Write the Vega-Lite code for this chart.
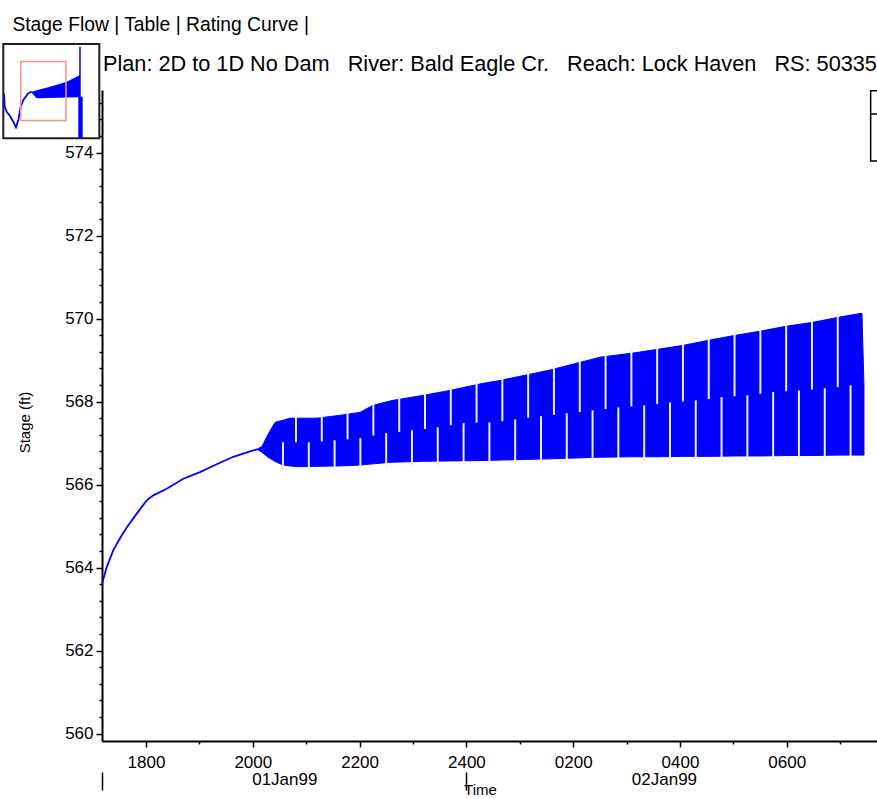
{
  "$schema": "https://vega.github.io/schema/vega-lite/v6.json",
  "width": 775,
  "height": 651,
  "autosize": "none",
  "padding": {"left": 102, "top": 90, "right": 0, "bottom": 58},
  "background": "white",
  "config": {
    "font": "Liberation Sans",
    "view": {"stroke": null},
    "axis": {
      "domainColor": "#000000",
      "domainWidth": 2,
      "tickColor": "#000000",
      "tickWidth": 1.5,
      "labelColor": "#000000",
      "labelFont": "Liberation Sans",
      "labelFontSize": 17,
      "titleFont": "Liberation Sans",
      "titleFontWeight": "normal",
      "titleColor": "#000000",
      "grid": false,
      "labelFlush": false,
      "labelOverlap": false
    }
  },
  "title": {
    "text": "Stage Flow | Table | Rating Curve |",
    "anchor": "start",
    "frame": "bounds",
    "fontSize": 19.3,
    "fontWeight": "normal",
    "color": "#000000",
    "offset": 8,
    "dx": 12
  },
  "datasets": {
    "rise": [
      {"hr": 17.176, "stage": 563.61},
      {"hr": 17.264, "stage": 564.01},
      {"hr": 17.388, "stage": 564.42},
      {"hr": 17.545, "stage": 564.78},
      {"hr": 17.669, "stage": 565.02},
      {"hr": 17.826, "stage": 565.30},
      {"hr": 18.013, "stage": 565.62},
      {"hr": 18.137, "stage": 565.74},
      {"hr": 18.388, "stage": 565.90},
      {"hr": 18.699, "stage": 566.14},
      {"hr": 19.011, "stage": 566.30},
      {"hr": 19.324, "stage": 566.49},
      {"hr": 19.635, "stage": 566.67},
      {"hr": 19.948, "stage": 566.80},
      {"hr": 20.079, "stage": 566.85}
    ],
    "band": [
      {"hr": 20.079, "lo": 566.85, "hi": 566.85},
      {"hr": 20.172, "lo": 566.78, "hi": 566.92},
      {"hr": 20.285, "lo": 566.66, "hi": 567.21},
      {"hr": 20.416, "lo": 566.56, "hi": 567.50},
      {"hr": 20.566, "lo": 566.47, "hi": 567.55},
      {"hr": 20.697, "lo": 566.45, "hi": 567.60},
      {"hr": 20.884, "lo": 566.43, "hi": 567.60},
      {"hr": 21.202, "lo": 566.44, "hi": 567.60},
      {"hr": 21.633, "lo": 566.45, "hi": 567.67},
      {"hr": 22.007, "lo": 566.47, "hi": 567.74},
      {"hr": 22.251, "lo": 566.50, "hi": 567.91},
      {"hr": 22.625, "lo": 566.54, "hi": 568.03},
      {"hr": 23.187, "lo": 566.56, "hi": 568.15},
      {"hr": 23.693, "lo": 566.57, "hi": 568.27},
      {"hr": 24.311, "lo": 566.58, "hi": 568.44},
      {"hr": 24.629, "lo": 566.59, "hi": 568.51},
      {"hr": 25.566, "lo": 566.62, "hi": 568.76},
      {"hr": 26.502, "lo": 566.66, "hi": 569.07},
      {"hr": 27.120, "lo": 566.67, "hi": 569.17},
      {"hr": 27.588, "lo": 566.67, "hi": 569.26},
      {"hr": 28.075, "lo": 566.68, "hi": 569.36},
      {"hr": 28.543, "lo": 566.68, "hi": 569.48},
      {"hr": 29.049, "lo": 566.69, "hi": 569.60},
      {"hr": 29.517, "lo": 566.69, "hi": 569.70},
      {"hr": 30.004, "lo": 566.70, "hi": 569.82},
      {"hr": 30.491, "lo": 566.70, "hi": 569.91},
      {"hr": 30.959, "lo": 566.71, "hi": 570.03},
      {"hr": 31.408, "lo": 566.71, "hi": 570.13},
      {"hr": 31.446, "lo": 566.71, "hi": 568.39}
    ],
    "gaps": [
      {"part": "upper", "hr": 20.809, "lo": 567.02, "hi": 567.70},
      {"part": "upper", "hr": 21.292, "lo": 567.04, "hi": 567.71},
      {"part": "upper", "hr": 21.775, "lo": 567.09, "hi": 567.80},
      {"part": "upper", "hr": 22.258, "lo": 567.18, "hi": 568.01},
      {"part": "upper", "hr": 22.742, "lo": 567.27, "hi": 568.15},
      {"part": "upper", "hr": 23.225, "lo": 567.34, "hi": 568.26},
      {"part": "upper", "hr": 23.708, "lo": 567.43, "hi": 568.37},
      {"part": "upper", "hr": 24.191, "lo": 567.49, "hi": 568.51},
      {"part": "upper", "hr": 24.674, "lo": 567.53, "hi": 568.62},
      {"part": "upper", "hr": 25.157, "lo": 567.61, "hi": 568.75},
      {"part": "upper", "hr": 25.640, "lo": 567.68, "hi": 568.88},
      {"part": "upper", "hr": 26.124, "lo": 567.75, "hi": 569.05},
      {"part": "upper", "hr": 26.607, "lo": 567.82, "hi": 569.19},
      {"part": "upper", "hr": 27.090, "lo": 567.88, "hi": 569.26},
      {"part": "upper", "hr": 27.573, "lo": 567.94, "hi": 569.35},
      {"part": "upper", "hr": 28.056, "lo": 568.00, "hi": 569.46},
      {"part": "upper", "hr": 28.539, "lo": 568.06, "hi": 569.58},
      {"part": "upper", "hr": 29.022, "lo": 568.13, "hi": 569.69},
      {"part": "upper", "hr": 29.506, "lo": 568.19, "hi": 569.80},
      {"part": "upper", "hr": 29.989, "lo": 568.25, "hi": 569.92},
      {"part": "upper", "hr": 30.472, "lo": 568.29, "hi": 570.01},
      {"part": "upper", "hr": 30.955, "lo": 568.35, "hi": 570.13},
      {"part": "lower", "hr": 20.566, "lo": 566.37, "hi": 567.02},
      {"part": "lower", "hr": 21.049, "lo": 566.33, "hi": 567.02},
      {"part": "lower", "hr": 21.532, "lo": 566.35, "hi": 567.07},
      {"part": "lower", "hr": 22.015, "lo": 566.37, "hi": 567.12},
      {"part": "lower", "hr": 22.498, "lo": 566.44, "hi": 567.24},
      {"part": "lower", "hr": 22.981, "lo": 566.45, "hi": 567.31},
      {"part": "lower", "hr": 23.464, "lo": 566.46, "hi": 567.38},
      {"part": "lower", "hr": 23.948, "lo": 566.47, "hi": 567.48},
      {"part": "lower", "hr": 24.431, "lo": 566.48, "hi": 567.50},
      {"part": "lower", "hr": 24.914, "lo": 566.49, "hi": 567.57},
      {"part": "lower", "hr": 25.397, "lo": 566.51, "hi": 567.65},
      {"part": "lower", "hr": 25.880, "lo": 566.52, "hi": 567.72},
      {"part": "lower", "hr": 26.363, "lo": 566.56, "hi": 567.79},
      {"part": "lower", "hr": 26.846, "lo": 566.57, "hi": 567.86},
      {"part": "lower", "hr": 27.330, "lo": 566.57, "hi": 567.91},
      {"part": "lower", "hr": 27.813, "lo": 566.58, "hi": 567.98},
      {"part": "lower", "hr": 28.296, "lo": 566.58, "hi": 568.03},
      {"part": "lower", "hr": 28.779, "lo": 566.59, "hi": 568.11},
      {"part": "lower", "hr": 29.262, "lo": 566.59, "hi": 568.15},
      {"part": "lower", "hr": 29.745, "lo": 566.60, "hi": 568.23},
      {"part": "lower", "hr": 30.228, "lo": 566.60, "hi": 568.27},
      {"part": "lower", "hr": 30.712, "lo": 566.61, "hi": 568.32},
      {"part": "lower", "hr": 31.195, "lo": 566.61, "hi": 568.39}
    ],
    "thumbLine": [
      {"hr": 11.82, "stage": 567.05},
      {"hr": 12.04, "stage": 563.49},
      {"hr": 12.68, "stage": 562.16},
      {"hr": 13.75, "stage": 561.01},
      {"hr": 14.81, "stage": 559.50},
      {"hr": 15.67, "stage": 558.01},
      {"hr": 16.42, "stage": 559.95},
      {"hr": 17.17, "stage": 563.49},
      {"hr": 18.02, "stage": 565.27},
      {"hr": 19.62, "stage": 567.05},
      {"hr": 20.69, "stage": 567.48}
    ],
    "thumbBand": [
      {"hr": 20.69, "lo": 567.20, "hi": 567.48},
      {"hr": 22.30, "lo": 565.72, "hi": 567.85},
      {"hr": 26.56, "lo": 565.80, "hi": 568.81},
      {"hr": 31.91, "lo": 565.90, "hi": 570.14},
      {"hr": 36.17, "lo": 565.99, "hi": 571.92}
    ],
    "legendBox": [
      {"hr0": 31.571, "hr1": 32.5, "s0": 573.80, "s1": 575.49, "sm": 574.93}
    ]
  },
  "layer": [
    {
      "data": {"values": [{"hr0": 11.6, "hr1": 42.36, "s0": 555.08, "s1": 580.16}]},
      "mark": {"type": "rect", "fill": "white", "stroke": "#202020", "strokeWidth": 2},
      "encoding": {
        "x": {"field": "hr0", "type": "quantitative", "scale": {"domain": [11.6, 42.36], "range": [-98.7, -2.7], "nice": false, "zero": false}, "axis": null},
        "x2": {"field": "hr1"},
        "y": {"field": "s0", "type": "quantitative", "scale": {"domain": [555.08, 580.16], "range": [48.3, -46], "nice": false, "zero": false}, "axis": null},
        "y2": {"field": "s1"}
      }
    },
    {
      "data": {"name": "thumbBand"},
      "mark": {"type": "area", "color": "#0000ff"},
      "encoding": {
        "x": {"field": "hr", "type": "quantitative", "scale": {"domain": [11.6, 42.36], "range": [-98.7, -2.7], "nice": false, "zero": false}, "axis": null},
        "y": {"field": "lo", "type": "quantitative", "scale": {"domain": [555.08, 580.16], "range": [48.3, -46], "nice": false, "zero": false}, "axis": null},
        "y2": {"field": "hi"}
      }
    },
    {
      "data": {"name": "thumbLine"},
      "mark": {"type": "line", "color": "#0000ff", "strokeWidth": 1.8},
      "encoding": {
        "x": {"field": "hr", "type": "quantitative", "scale": {"domain": [11.6, 42.36], "range": [-98.7, -2.7], "nice": false, "zero": false}, "axis": null},
        "y": {"field": "stage", "type": "quantitative", "scale": {"domain": [555.08, 580.16], "range": [48.3, -46], "nice": false, "zero": false}, "axis": null}
      }
    },
    {
      "data": {"values": [{"hr0": 35.63, "hr1": 37.04, "s0": 555.08, "s1": 566.15}]},
      "mark": {"type": "rect", "color": "#0000ff"},
      "encoding": {
        "x": {"field": "hr0", "type": "quantitative", "scale": {"domain": [11.6, 42.36], "range": [-98.7, -2.7], "nice": false, "zero": false}, "axis": null},
        "x2": {"field": "hr1"},
        "y": {"field": "s0", "type": "quantitative", "scale": {"domain": [555.08, 580.16], "range": [48.3, -46], "nice": false, "zero": false}, "axis": null},
        "y2": {"field": "s1"}
      }
    },
    {
      "data": {"values": [{"hr": 36.17, "s0": 565.99, "s1": 579.45}]},
      "mark": {"type": "rule", "color": "#0000ff", "strokeWidth": 1.5},
      "encoding": {
        "x": {"field": "hr", "type": "quantitative", "scale": {"domain": [11.6, 42.36], "range": [-98.7, -2.7], "nice": false, "zero": false}, "axis": null},
        "y": {"field": "s0", "type": "quantitative", "scale": {"domain": [555.08, 580.16], "range": [48.3, -46], "nice": false, "zero": false}, "axis": null},
        "y2": {"field": "s1"}
      }
    },
    {
      "data": {"values": [{"hr0": 17.18, "hr1": 31.69, "s0": 559.82, "s1": 575.51}]},
      "mark": {"type": "rect", "fillOpacity": 0, "stroke": "#ff8c8c", "strokeWidth": 1.5},
      "encoding": {
        "x": {"field": "hr0", "type": "quantitative", "scale": {"domain": [11.6, 42.36], "range": [-98.7, -2.7], "nice": false, "zero": false}, "axis": null},
        "x2": {"field": "hr1"},
        "y": {"field": "s0", "type": "quantitative", "scale": {"domain": [555.08, 580.16], "range": [48.3, -46], "nice": false, "zero": false}, "axis": null},
        "y2": {"field": "s1"}
      }
    },
    {
      "data": {"name": "band"},
      "mark": {"type": "area", "color": "#0000ff", "stroke": "#0000ff", "strokeWidth": 1},
      "encoding": {
        "x": {
          "field": "hr", "type": "quantitative",
          "scale": {"domain": [17.176, 31.69], "nice": false, "zero": false},
          "axis": {
            "orient": "bottom",
            "values": [20.59, 27.7],
            "labelExpr": "datum.value < 24 ? '01Jan99' : '02Jan99'",
            "ticks": false,
            "domain": false,
            "labelPadding": 30,
            "title": null
          }
        },
        "y": {
          "field": "lo", "type": "quantitative",
          "scale": {"domain": [559.82, 575.51], "nice": false, "zero": false},
          "axis": null
        },
        "y2": {"field": "hi"}
      }
    },
    {
      "data": {"name": "gaps"},
      "mark": {"type": "rule", "color": "#ececff", "strokeWidth": 2},
      "encoding": {
        "x": {
          "field": "hr", "type": "quantitative",
          "scale": {"domain": [17.176, 31.69], "nice": false, "zero": false},
          "axis": {
            "orient": "bottom",
            "values": [17.18, 24],
            "offset": 31,
            "tickSize": 18,
            "labels": false,
            "domain": false,
            "title": "Time",
            "titleX": 378,
            "titleY": 10,
            "titleBaseline": "top",
            "titleFontSize": 15
          }
        },
        "y": {
          "field": "lo", "type": "quantitative",
          "scale": {"domain": [559.82, 575.51], "nice": false, "zero": false},
          "axis": null
        },
        "y2": {"field": "hi"}
      }
    },
    {
      "data": {"name": "rise"},
      "mark": {"type": "line", "color": "#0000ff", "strokeWidth": 1.8},
      "encoding": {
        "x": {
          "field": "hr", "type": "quantitative",
          "scale": {"domain": [17.176, 31.69], "nice": false, "zero": false},
          "axis": {
            "orient": "bottom",
            "values": [18, 19, 20, 21, 22, 23, 24, 25, 26, 27, 28, 29, 30, 31],
            "labelExpr": "datum.value % 2 == 0 ? (datum.value % 24 == 0 ? '2400' : format(datum.value % 24, '02d') + '00') : ''",
            "tickSize": {"condition": {"test": "datum.value % 2 == 0", "value": 6}, "value": 3},
            "labelPadding": 7,
            "title": null
          }
        },
        "y": {
          "field": "stage", "type": "quantitative",
          "scale": {"domain": [559.82, 575.51], "nice": false, "zero": false},
          "axis": {
            "orient": "left",
            "values": [560, 560.4, 560.8, 561.2, 561.6, 562, 562.4, 562.8, 563.2, 563.6, 564, 564.4, 564.8, 565.2, 565.6, 566, 566.4, 566.8, 567.2, 567.6, 568, 568.4, 568.8, 569.2, 569.6, 570, 570.4, 570.8, 571.2, 571.6, 572, 572.4, 572.8, 573.2, 573.6, 574, 574.4, 574.8, 575.2],
            "labelExpr": "abs(datum.value / 2 - round(datum.value / 2)) < 0.01 ? '' + round(datum.value) : ''",
            "tickSize": {"condition": {"test": "abs(datum.value / 2 - round(datum.value / 2)) < 0.01", "value": 6}, "value": 3},
            "labelPadding": 3,
            "title": "Stage (ft)",
            "titleX": -78,
            "titleY": 332,
            "titleBaseline": "middle",
            "titleFontSize": 15
          }
        }
      }
    },
    {
      "data": {"values": [{"label": "Plan: 2D to 1D No Dam\u00a0\u00a0\u00a0River: Bald Eagle Cr.\u00a0\u00a0\u00a0Reach: Lock Haven\u00a0\u00a0\u00a0RS: 50335"}]},
      "mark": {"type": "text", "align": "left", "baseline": "alphabetic", "dx": 1, "dy": -19, "fontSize": 21.7, "color": "#000000"},
      "encoding": {
        "x": {"datum": 17.176, "type": "quantitative", "scale": {"domain": [17.176, 31.69], "nice": false, "zero": false}, "axis": null},
        "y": {"datum": 575.51, "type": "quantitative", "scale": {"domain": [559.82, 575.51], "nice": false, "zero": false}, "axis": null},
        "text": {"field": "label"}
      }
    },
    {
      "data": {"name": "legendBox"},
      "mark": {"type": "rect", "fill": "white", "stroke": "#000000", "strokeWidth": 1.5},
      "encoding": {
        "x": {"field": "hr0", "type": "quantitative", "scale": {"domain": [17.176, 31.69], "nice": false, "zero": false}, "axis": null},
        "x2": {"field": "hr1"},
        "y": {"field": "s0", "type": "quantitative", "scale": {"domain": [559.82, 575.51], "nice": false, "zero": false}, "axis": null},
        "y2": {"field": "s1"}
      }
    },
    {
      "data": {"name": "legendBox"},
      "mark": {"type": "rule", "color": "#000000", "strokeWidth": 1.5},
      "encoding": {
        "x": {"field": "hr0", "type": "quantitative", "scale": {"domain": [17.176, 31.69], "nice": false, "zero": false}, "axis": null},
        "x2": {"field": "hr1"},
        "y": {"field": "sm", "type": "quantitative", "scale": {"domain": [559.82, 575.51], "nice": false, "zero": false}, "axis": null}
      }
    }
  ],
  "resolve": {
    "scale": {"x": "independent", "y": "independent"},
    "axis": {"x": "independent", "y": "independent"}
  }
}
